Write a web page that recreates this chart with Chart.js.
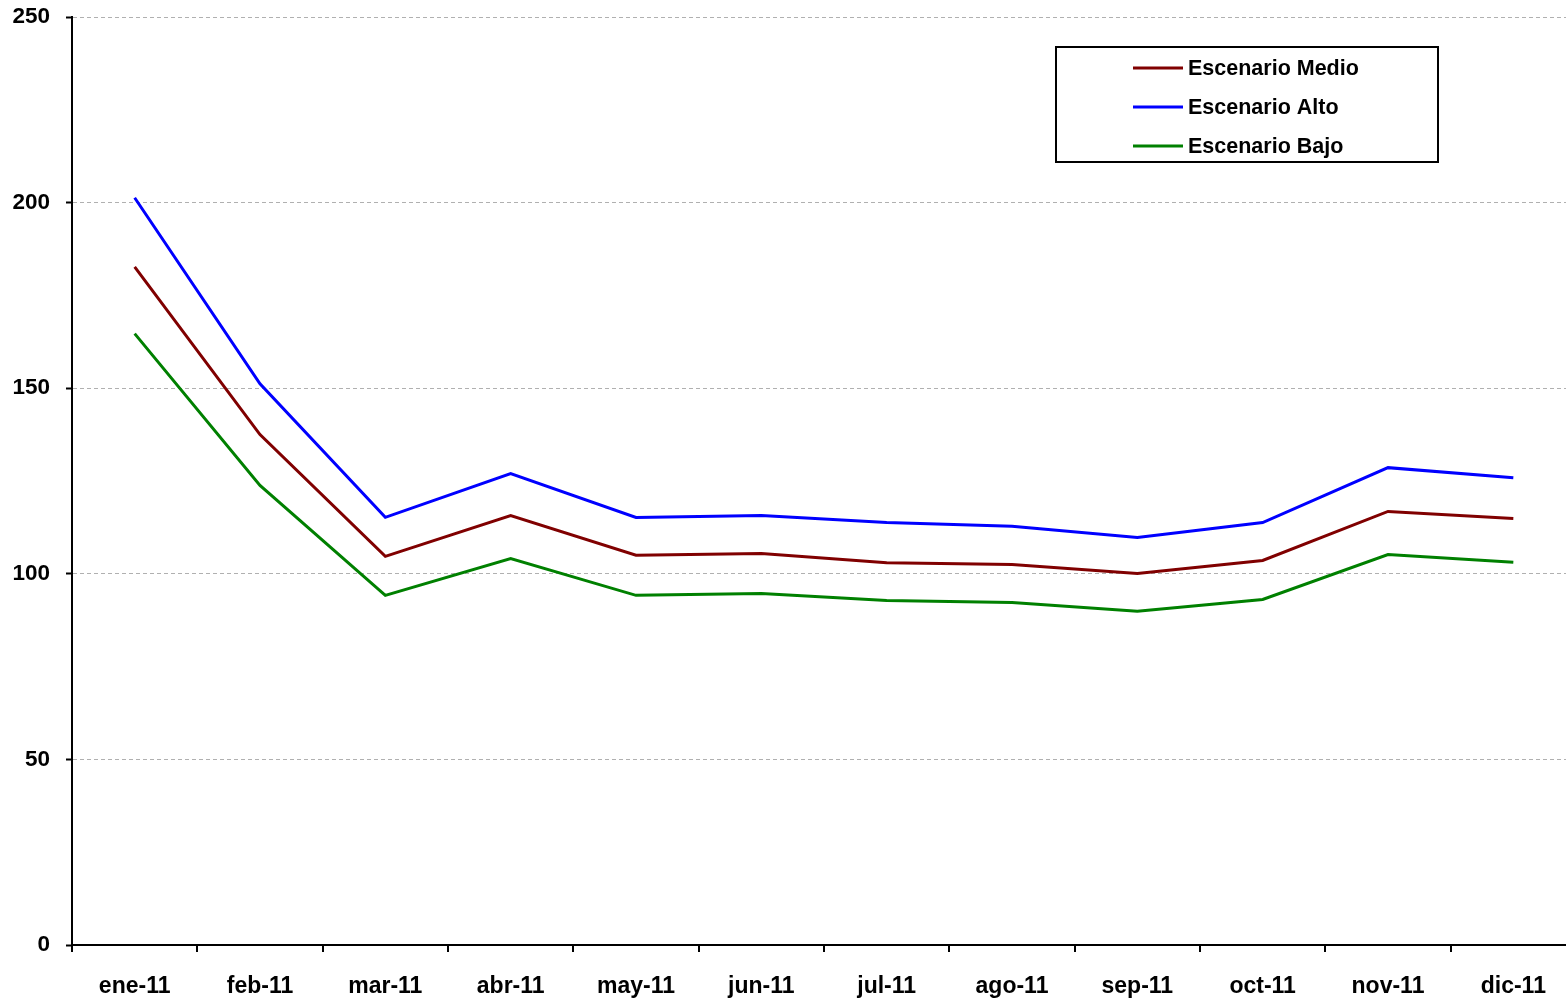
<!DOCTYPE html>
<html>
<head>
<meta charset="utf-8">
<script src="https://cdn.jsdelivr.net/npm/chart.js@4/dist/chart.umd.min.js"></script>
<style>
  html, body { margin: 0; padding: 0; background: #fff; overflow: hidden; }
  #wrap { width: 1576px; height: 999px; }
</style>
</head>
<body>
<div id="wrap"><canvas id="canvas1"></canvas></div>
<script>
const meses = ['ene-11', 'feb-11', 'mar-11', 'abr-11', 'may-11', 'jun-11', 'jul-11', 'ago-11', 'sep-11', 'oct-11', 'nov-11', 'dic-11']
const medio = [182.7, 137.5, 104.7, 115.7, 105.0, 105.5, 103.0, 102.5, 100.1, 103.6, 116.8, 114.9]
const alto = [201.3, 151.2, 115.2, 127.0, 115.2, 115.7, 113.8, 112.8, 109.8, 113.8, 128.6, 125.9]
const bajo = [164.7, 123.8, 94.2, 104.1, 94.2, 94.7, 92.8, 92.3, 89.9, 93.1, 105.2, 103.1]
const yTicks = [0, 50, 100, 150, 200, 250]

const familia = '"Liberation Sans", Arial, sans-serif'

// leyenda con recuadro, dibujada a mano
const cajaLeyenda = {
  id: 'cajaLeyenda',
  afterDraw(chart) {
    const c = chart.ctx
    const x = 1056, y = 47, w = 382, h = 115
    c.save()
    c.fillStyle = '#fff'
    c.fillRect(x, y, w, h)
    c.strokeStyle = '#000'
    c.lineWidth = 2
    c.strokeRect(x, y, w, h)
    c.font = 'bold 21.5px ' + familia
    c.textBaseline = 'middle'
    chart.data.datasets.forEach((ds, i) => {
      const fy = y + 21 + i * 39
      c.strokeStyle = ds.borderColor
      c.lineWidth = 3
      c.beginPath()
      c.moveTo(1133, fy)
      c.lineTo(1183, fy)
      c.stroke()
      c.fillStyle = '#000'
      c.fillText(ds.label, 1188, fy + 1)
    })
    c.restore()
  }
}

new Chart(document.getElementById('canvas1'), {
  type: 'line',
  data: {
    labels: meses,
    datasets: [
      { label: 'Escenario Medio', data: medio, borderColor: '#800000', borderWidth: 3, pointRadius: 0, tension: 0 },
      { label: 'Escenario Alto', data: alto, borderColor: '#0000ff', borderWidth: 3, pointRadius: 0, tension: 0 },
      { label: 'Escenario Bajo', data: bajo, borderColor: '#008000', borderWidth: 3, pointRadius: 0, tension: 0 }
    ]
  },
  options: {
    responsive: true,
    maintainAspectRatio: false,
    animation: false,
    layout: { padding: { top: 17, right: 0, left: 0, bottom: 0 } },
    plugins: { legend: { display: false }, tooltip: { enabled: false } },
    scales: {
      x: {
        offset: true,
        grid: { offset: true, drawOnChartArea: false, drawTicks: true, tickLength: 7, color: '#000', lineWidth: 2 },
        border: { color: '#000', width: 2 },
        ticks: { color: '#000', font: { family: familia, size: 23, weight: 'bold' }, padding: 21, maxRotation: 0, autoSkip: false },
        afterFit(scale) {
          scale.height = 54
          scale.paddingLeft = 0
          scale.paddingRight = 0
        }
      },
      y: {
        min: 0,
        max: 250,
        afterBuildTicks(scale) { scale.ticks = yTicks.map(v => ({ value: v })) },
        grid: { color: '#b0b0b0', lineWidth: 1, tickLength: 6, tickColor: '#000', tickWidth: 2 },
        border: { color: '#000', width: 2, dash: [4, 3] },
        ticks: { color: '#000', font: { family: familia, size: 22.5, weight: 'bold' }, padding: 16 },
        afterFit(scale) {
          scale.width = 72
          scale.paddingTop = 0
          scale.paddingBottom = 0
        }
      }
    }
  },
  plugins: [cajaLeyenda]
})
</script>
</body>
</html>
